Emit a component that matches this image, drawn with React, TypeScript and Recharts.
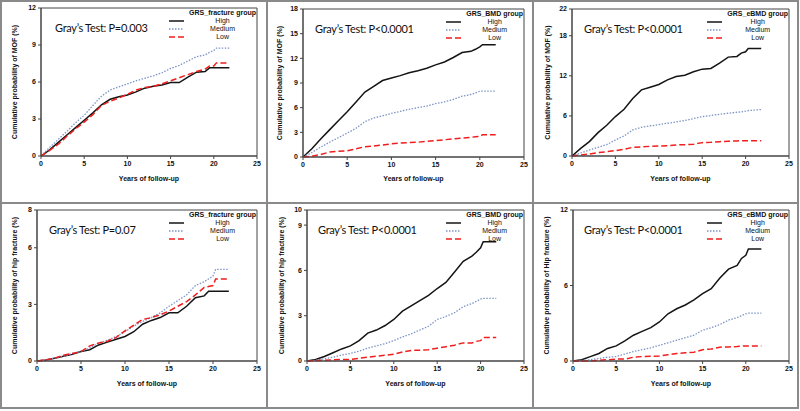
import { Line, LineChart, ReferenceArea, XAxis, YAxis } from "recharts";

// Годы наблюдения, общие для всех панелей (узлы, в которых сняты значения).
const YEARS = [0, 1, 2, 3, 4, 5, 6, 7, 8, 9, 10, 11, 12, 13, 14, 15, 16, 17, 18, 19, 19.5, 20, 20.3, 21.8];
const X_TICKS = [0, 5, 10, 15, 20, 25];

// MOF, GRS_fracture
const MOF_FRACTURE_HIGH = [0, 0.5, 1.1, 1.7, 2.3, 2.9, 3.5, 4.15, 4.6, 4.8, 4.95, 5.2, 5.5, 5.65, 5.75, 5.95, 5.95, 6.4, 6.8, 6.85, 7.15, 7.15, 7.15, 7.15];
const MOF_FRACTURE_MEDIUM = [0, 0.7, 1.35, 2.0, 2.7, 3.3, 4.1, 4.85, 5.35, 5.6, 5.85, 6.1, 6.3, 6.5, 6.75, 7.1, 7.35, 7.7, 8.05, 8.2, 8.4, 8.55, 8.75, 8.75];
const MOF_FRACTURE_LOW = [0, 0.45, 0.95, 1.6, 2.2, 2.75, 3.35, 4.1, 4.45, 4.7, 5.0, 5.35, 5.55, 5.65, 5.85, 6.1, 6.35, 6.6, 6.85, 7.05, 7.3, 7.3, 7.55, 7.55];

// MOF, GRS_BMD
const MOF_BMD_HIGH = [0, 1.0, 2.2, 3.3, 4.4, 5.5, 6.7, 7.9, 8.6, 9.3, 9.6, 9.9, 10.25, 10.5, 10.8, 11.2, 11.55, 12.1, 12.7, 12.85, 13.1, 13.4, 13.65, 13.65];
const MOF_BMD_MEDIUM = [0, 0.55, 1.2, 1.8, 2.35, 2.9, 3.5, 4.3, 4.75, 5.0, 5.3, 5.55, 5.8, 6.0, 6.2, 6.5, 6.7, 7.0, 7.4, 7.6, 7.8, 8.0, 8.0, 8.0];
const MOF_BMD_LOW = [0, 0.1, 0.3, 0.6, 0.7, 0.75, 1.0, 1.25, 1.35, 1.45, 1.6, 1.7, 1.75, 1.8, 1.9, 2.0, 2.1, 2.2, 2.3, 2.4, 2.45, 2.5, 2.7, 2.7];

// MOF, GRS_eBMD
const MOF_EBMD_HIGH = [0, 1.15, 2.15, 3.5, 4.6, 5.9, 7.0, 8.6, 9.9, 10.3, 10.7, 11.4, 11.9, 12.1, 12.6, 13.0, 13.1, 13.9, 14.8, 14.9, 15.4, 15.6, 16.1, 16.1];
const MOF_EBMD_MEDIUM = [0, 0.45, 0.9, 1.3, 1.7, 2.4, 3.0, 3.9, 4.3, 4.5, 4.7, 4.9, 5.1, 5.3, 5.6, 5.9, 6.05, 6.25, 6.4, 6.55, 6.6, 6.7, 6.8, 6.95];
const MOF_EBMD_LOW = [0, 0.15, 0.3, 0.5, 0.65, 0.8, 1.0, 1.3, 1.35, 1.45, 1.5, 1.55, 1.65, 1.7, 1.75, 2.0, 2.05, 2.15, 2.2, 2.25, 2.3, 2.3, 2.3, 2.3];

// Hip, GRS_fracture
const HIP_FRACTURE_HIGH = [0, 0.05, 0.15, 0.25, 0.35, 0.5, 0.6, 0.85, 1.0, 1.15, 1.3, 1.55, 1.95, 2.15, 2.3, 2.55, 2.55, 2.9, 3.35, 3.45, 3.7, 3.7, 3.7, 3.7];
const HIP_FRACTURE_MEDIUM = [0, 0.05, 0.15, 0.25, 0.4, 0.5, 0.7, 0.95, 1.1, 1.3, 1.55, 1.85, 2.1, 2.3, 2.55, 2.9, 3.2, 3.5, 4.0, 4.2, 4.35, 4.5, 4.85, 4.85];
const HIP_FRACTURE_LOW = [0, 0.05, 0.15, 0.3, 0.4, 0.5, 0.8, 0.95, 1.05, 1.25, 1.6, 1.9, 2.2, 2.3, 2.45, 2.65, 2.9, 3.15, 3.5, 3.9, 3.95, 4.0, 4.35, 4.35];

// Hip, GRS_BMD
const HIP_BMD_HIGH = [0, 0.1, 0.3, 0.55, 0.8, 1.0, 1.35, 1.85, 2.05, 2.35, 2.75, 3.3, 3.65, 4.0, 4.35, 4.8, 5.2, 5.9, 6.6, 6.95, 7.2, 7.5, 7.9, 7.9];
const HIP_BMD_MEDIUM = [0, 0.05, 0.15, 0.25, 0.4, 0.5, 0.65, 0.85, 1.0, 1.15, 1.35, 1.6, 1.8, 2.05, 2.3, 2.75, 2.95, 3.2, 3.6, 3.8, 3.95, 4.1, 4.15, 4.15];
const HIP_BMD_LOW = [0, 0.02, 0.05, 0.08, 0.1, 0.1, 0.18, 0.25, 0.32, 0.38, 0.45, 0.6, 0.7, 0.72, 0.75, 0.85, 0.95, 1.05, 1.2, 1.2, 1.3, 1.35, 1.55, 1.55];

// Hip, GRS_eBMD
const HIP_EBMD_HIGH = [0, 0.1, 0.35, 0.6, 1.0, 1.2, 1.6, 2.05, 2.35, 2.65, 3.1, 3.75, 4.15, 4.45, 4.85, 5.35, 5.75, 6.6, 7.3, 7.6, 8.15, 8.4, 8.9, 8.9];
const HIP_EBMD_MEDIUM = [0, 0.03, 0.1, 0.2, 0.3, 0.35, 0.55, 0.75, 0.9, 1.05, 1.25, 1.45, 1.65, 1.85, 2.05, 2.45, 2.65, 2.9, 3.25, 3.45, 3.6, 3.75, 3.8, 3.8];
const HIP_EBMD_LOW = [0, 0, 0, 0.05, 0.1, 0.15, 0.15, 0.3, 0.35, 0.38, 0.4, 0.5, 0.6, 0.65, 0.7, 0.9, 0.95, 1.1, 1.12, 1.15, 1.18, 1.2, 1.2, 1.2];

const GROUPS = ["High", "Medium", "Low"] as const;

const SANS = "'Liberation Sans', Arial, sans-serif";
const BORDER = "#8a8a8a";

const STYLES = {
  High: { stroke: "#141414", width: 1.5, dash: undefined as string | undefined },
  Medium: { stroke: "#7d95c6", width: 1.3, dash: "1.5 1.5" },
  Low: { stroke: "#f01e1e", width: 1.5, dash: "6 3" },
};

type PanelSpec = {
  col: number;
  row: number;
  group: string;
  test: string;
  yLabel: string;
  yMax: number;
  yTicks: number[];
  high: number[];
  medium: number[];
  low: number[];
  // геометрия области построения внутри ячейки
  plotLeft: number;
  plotRight: number;
  plotTop: number;
  plotBottom: number;
  yLabelX: number;
  titleX: number;
};

const COL_X = [0, 267, 533];
const COL_W = [267, 266, 265];
const ROW_Y = [0, 203];
const ROW_H = [203, 205];

const PANELS: PanelSpec[] = [
  {
    col: 0, row: 0, group: "GRS_fracture group", test: "Gray’s Test: P=0.003",
    yLabel: "Cumulative probability of MOF (%)", yMax: 12, yTicks: [0, 3, 6, 9, 12],
    high: MOF_FRACTURE_HIGH, medium: MOF_FRACTURE_MEDIUM, low: MOF_FRACTURE_LOW,
    plotLeft: 41, plotRight: 257, plotTop: 8, plotBottom: 156, yLabelX: 15, titleX: 55,
  },
  {
    col: 1, row: 0, group: "GRS_BMD group", test: "Gray’s Test: P<0.0001",
    yLabel: "Cumulative probability of MOF (%)", yMax: 18, yTicks: [0, 3, 6, 9, 12, 15, 18],
    high: MOF_BMD_HIGH, medium: MOF_BMD_MEDIUM, low: MOF_BMD_LOW,
    plotLeft: 36, plotRight: 257, plotTop: 9, plotBottom: 157, yLabelX: 13, titleX: 48,
  },
  {
    col: 2, row: 0, group: "GRS_eBMD group", test: "Gray’s Test: P<0.0001",
    yLabel: "Cumulative probability of MOF (%)", yMax: 22, yTicks: [0, 6, 12, 18, 22],
    high: MOF_EBMD_HIGH, medium: MOF_EBMD_MEDIUM, low: MOF_EBMD_LOW,
    plotLeft: 39, plotRight: 256, plotTop: 9, plotBottom: 156, yLabelX: 15, titleX: 51,
  },
  {
    col: 0, row: 1, group: "GRS_fracture group", test: "Gray’s Test: P=0.07",
    yLabel: "Cumulative probability of hip fracture (%)", yMax: 8, yTicks: [0, 3, 6, 8],
    high: HIP_FRACTURE_HIGH, medium: HIP_FRACTURE_MEDIUM, low: HIP_FRACTURE_LOW,
    plotLeft: 37, plotRight: 257, plotTop: 7, plotBottom: 158, yLabelX: 15, titleX: 49,
  },
  {
    col: 1, row: 1, group: "GRS_BMD group", test: "Gray’s Test: P<0.0001",
    yLabel: "Cumulative probability of hip fracture (%)", yMax: 10, yTicks: [0, 3, 6, 9, 10],
    high: HIP_BMD_HIGH, medium: HIP_BMD_MEDIUM, low: HIP_BMD_LOW,
    plotLeft: 40, plotRight: 257, plotTop: 7, plotBottom: 158, yLabelX: 15, titleX: 51,
  },
  {
    col: 2, row: 1, group: "GRS_eBMD group", test: "Gray’s Test: P<0.0001",
    yLabel: "Cumulative probability of Hip fracture (%)", yMax: 12, yTicks: [0, 6, 12],
    high: HIP_EBMD_HIGH, medium: HIP_EBMD_MEDIUM, low: HIP_EBMD_LOW,
    plotLeft: 40, plotRight: 256, plotTop: 7, plotBottom: 158, yLabelX: 14, titleX: 51,
  },
];

const TICK = { fontSize: 7, fontWeight: 700, fill: "#111", fontFamily: SANS };

function Panel({ spec }: { spec: PanelSpec }) {
  const width = COL_W[spec.col];
  const height = ROW_H[spec.row];
  const data = YEARS.map((t, i) => ({
    t,
    High: spec.high[i],
    Medium: spec.medium[i],
    Low: spec.low[i],
  }));

  return (
    <div
      style={{
        position: "absolute",
        left: COL_X[spec.col],
        top: ROW_Y[spec.row],
        width,
        height,
      }}
    >
      <LineChart
        width={width}
        height={height}
        data={data}
        margin={{ top: spec.plotTop, right: width - spec.plotRight, left: 0, bottom: 0 }}
      >
        <XAxis
          dataKey="t"
          type="number"
          domain={[0, 25]}
          ticks={X_TICKS}
          interval={0}
          height={height - spec.plotBottom}
          tickSize={3}
          tickMargin={2}
          tick={TICK}
          stroke="#444"
          label={{
            value: "Years of follow-up",
            position: "insideBottom",
            offset: 22,
            style: { fontSize: 7, fontWeight: 700, fill: "#111", fontFamily: SANS },
          }}
        />
        <YAxis
          type="number"
          domain={[0, spec.yMax]}
          ticks={spec.yTicks}
          interval={0}
          width={spec.plotLeft}
          tickSize={3}
          tickMargin={2}
          tick={TICK}
          stroke="#444"
          label={{
            value: spec.yLabel,
            angle: -90,
            position: "insideLeft",
            offset: spec.yLabelX,
            style: { fontSize: 7, fontWeight: 700, fill: "#111", fontFamily: SANS, textAnchor: "middle" },
          }}
        />
        <ReferenceArea x1={0} x2={25} y1={0} y2={spec.yMax} fill="none" stroke="#444" strokeWidth={1} />
        {GROUPS.map((g) => (
          <Line
            key={g}
            dataKey={g}
            type="linear"
            stroke={STYLES[g].stroke}
            strokeWidth={STYLES[g].width}
            strokeDasharray={STYLES[g].dash}
            dot={false}
            isAnimationActive={false}
          />
        ))}
      </LineChart>

      <div
        style={{
          position: "absolute",
          left: spec.titleX,
          top: spec.plotTop + 14,
          fontFamily: "Lato, 'Open Sans', sans-serif",
          fontSize: 11,
          letterSpacing: -0.3,
          lineHeight: "12px",
          color: "#111",
          whiteSpace: "nowrap",
        }}
      >
        {spec.test}
      </div>

      <div
        style={{
          position: "absolute",
          right: width - spec.plotRight + 1,
          top: spec.plotTop + 1,
          fontFamily: SANS,
          fontSize: 7,
          lineHeight: "8px",
          color: "#111",
          whiteSpace: "nowrap",
        }}
      >
        <div style={{ fontWeight: 700 }}>{spec.group}</div>
        {GROUPS.map((g) => (
          <div key={g} style={{ position: "relative", textAlign: "center" }}>
            <svg
              width={15}
              height={8}
              style={{ position: "absolute", left: -20, top: 0 }}
            >
              <line
                x1={0}
                x2={15}
                y1={4}
                y2={4}
                stroke={STYLES[g].stroke}
                strokeWidth={STYLES[g].width}
                strokeDasharray={STYLES[g].dash}
              />
            </svg>
            {g}
          </div>
        ))}
      </div>
    </div>
  );
}

export default function App() {
  const vLines = [0, 266, 532, 797];
  const hLines = [0, 202, 407];
  return (
    <div
      style={{
        position: "fixed",
        left: 0,
        top: 0,
        width: 800,
        height: 411,
        background: "#fff",
        overflow: "hidden",
      }}
    >
      {PANELS.map((spec, i) => (
        <Panel key={i} spec={spec} />
      ))}
      {vLines.map((x) => (
        <div key={"v" + x} style={{ position: "absolute", left: x, top: 0, width: 2, height: 409, background: BORDER }} />
      ))}
      {hLines.map((y) => (
        <div key={"h" + y} style={{ position: "absolute", left: 0, top: y, width: 799, height: 2, background: BORDER }} />
      ))}
    </div>
  );
}
